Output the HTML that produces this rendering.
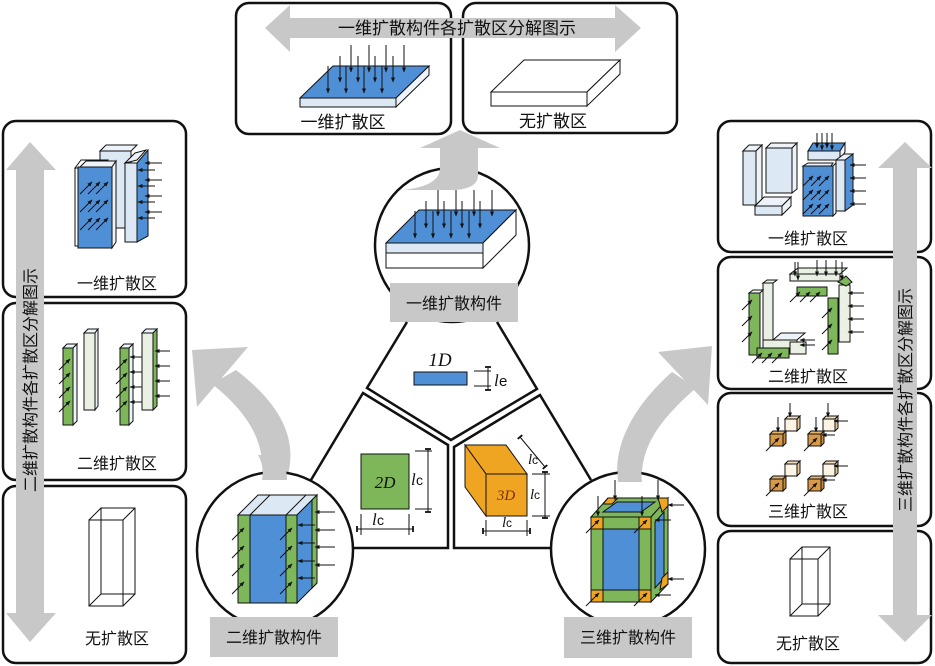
<!DOCTYPE html>
<html><head><meta charset="utf-8"><style>
html,body{margin:0;padding:0;background:#fff;}
svg{display:block;}
text{font-family:"Liberation Sans","Noto Sans CJK SC",sans-serif;}
.it{font-family:"Liberation Serif",serif;font-style:italic;}
</style></head><body>
<svg width="935" height="666" viewBox="0 0 935 666" xmlns="http://www.w3.org/2000/svg">
<defs>
<marker id="a" viewBox="0 0 10 10" refX="9" refY="5" markerWidth="5" markerHeight="5" orient="auto"><path d="M0,1 L10,5 L0,9 Z" fill="#111"/></marker>
<marker id="t" viewBox="0 0 10 10" refX="5" refY="5" markerWidth="6" markerHeight="6" orient="auto"><path d="M5,0 L5,10" stroke="#111" stroke-width="3"/></marker>
</defs>
<g fill="none" stroke="#111" stroke-width="2.5">
<rect x="236" y="3" width="215" height="131" rx="13"/>
<rect x="463" y="3" width="214" height="130" rx="13"/>
<rect x="3" y="121" width="183" height="176" rx="13"/>
<rect x="3" y="303" width="183" height="177" rx="13"/>
<rect x="3" y="486" width="183" height="177" rx="13"/>
<rect x="718" y="121" width="213" height="131" rx="13"/>
<rect x="718" y="257" width="213" height="132" rx="13"/>
<rect x="718" y="393" width="213" height="133" rx="13"/>
<rect x="718" y="531" width="213" height="132" rx="13"/>
</g>
<g fill="#c8c8c8">
<polygon points="265,28 290,5 290,18 615,18 615,5 641,28 615,52 615,38 290,38 290,52"/>
<polygon points="30,142 56,170 44,170 44,613 56,613 30,642 6,613 16,613 16,170 6,170"/>
<polygon points="905,142 932,168 917,168 917,615 932,615 905,642 878,615 893,615 893,168 878,168"/>
<polygon points="420,148 500,148 460,130"/>
<polygon points="192,350 248,347 197,407"/>
<path d="M212,384 L236,370 C275,400 300,435 287,478 L262,478 C266,440 245,410 212,384 Z"/>
<polygon points="712,346 658,352 708,405"/>
<path d="M672,372 L696,388 C662,418 640,445 642,482 L618,482 C612,440 640,400 672,372 Z"/>
</g>
<text x="457" y="34" font-size="17" text-anchor="middle" fill="#111">一维扩散构件各扩散区分解图示</text>
<text transform="translate(36,380) rotate(-90)" font-size="16" text-anchor="middle" fill="#111">二维扩散构件各扩散区分解图示</text>
<text transform="translate(911,400) rotate(-90)" font-size="16" text-anchor="middle" fill="#111">三维扩散构件各扩散区分解图示</text>

<g stroke="#111" stroke-width="1">
<polygon points="300,98 396,98 429,66 333,66" fill="#4f8fd6"/>
<rect x="300" y="98" width="96" height="9" fill="#dde8f5"/>
<polygon points="396,98 429,66 429,75 396,107" fill="#eef3fa"/>
<polygon points="491,92 587,92 620,60 524,60" fill="#fff"/>
<rect x="491" y="92" width="96" height="14" fill="#fff"/>
<polygon points="587,92 620,60 620,74 587,106" fill="#fff"/>
</g>
<g stroke="#111" stroke-width="1" marker-end="url(#a)">
<line x1="351" y1="45" x2="351" y2="72"/><line x1="369" y1="45" x2="369" y2="72"/><line x1="386" y1="45" x2="386" y2="72"/><line x1="404" y1="45" x2="404" y2="72"/>
<line x1="340" y1="56" x2="340" y2="82"/><line x1="358" y1="56" x2="358" y2="82"/><line x1="375" y1="56" x2="375" y2="82"/><line x1="393" y1="56" x2="393" y2="82"/>
<line x1="328" y1="66" x2="328" y2="93"/><line x1="346" y1="66" x2="346" y2="93"/><line x1="364" y1="66" x2="364" y2="93"/><line x1="382" y1="66" x2="382" y2="93"/>
</g>
<text x="343" y="128" font-size="17" text-anchor="middle" fill="#111">一维扩散区</text>
<text x="553" y="127" font-size="17" text-anchor="middle" fill="#111">无扩散区</text>

<circle cx="452" cy="245" r="77" fill="#fff" stroke="#111" stroke-width="2.5"/>
<path d="M440,147 L478,147 L478,175 Q478,190 450,190 L403,190 Q440,186 440,168 Z" fill="#c8c8c8"/>
<g stroke="#111" stroke-width="1">
<polygon points="386,243 483,243 516,210 419,210" fill="#4f8fd6"/>
<rect x="386" y="243" width="97" height="10" fill="#dde8f5"/>
<rect x="386" y="253" width="97" height="15" fill="#fff"/>
<polygon points="483,243 516,210 516,235 483,268" fill="#fff"/>
</g>
<g stroke="#111" stroke-width="1" marker-end="url(#a)">
<line x1="438" y1="190" x2="438" y2="216"/><line x1="456" y1="190" x2="456" y2="216"/><line x1="474" y1="190" x2="474" y2="216"/><line x1="492" y1="190" x2="492" y2="216"/>
<line x1="426" y1="201" x2="426" y2="228"/><line x1="444" y1="201" x2="444" y2="228"/><line x1="462" y1="201" x2="462" y2="228"/><line x1="480" y1="201" x2="480" y2="228"/>
<line x1="415" y1="211" x2="415" y2="238"/><line x1="433" y1="211" x2="433" y2="238"/><line x1="451" y1="211" x2="451" y2="238"/><line x1="469" y1="211" x2="469" y2="238"/>
</g>
<rect x="390" y="283" width="128" height="39" fill="#c8c8c8"/>
<text x="454" y="309" font-size="16" text-anchor="middle" fill="#111">一维扩散构件</text>

<g fill="none" stroke="#111" stroke-width="2.5" stroke-linejoin="miter">
<polyline points="407,322 367,388 451,440 537,389 497,322"/>
<polyline points="311,480 363,393 448,445 448,548 352,548"/>
<polyline points="591,480 540,395 454,447 454,548 551,548"/>
</g>
<rect x="414" y="372" width="53" height="13" fill="#4f8fd6" stroke="#111" stroke-width="1"/>
<text x="440" y="366" font-size="19" class="it" text-anchor="middle" fill="#111">1D</text>
<g stroke="#111" stroke-width="1">
<line x1="474" y1="371" x2="491" y2="371"/><line x1="474" y1="386" x2="491" y2="386"/>
<line x1="488" y1="367" x2="488" y2="390" marker-start="url(#t)" marker-end="url(#t)"/>
</g>
<text x="494" y="386" font-size="17" class="it" fill="#111">l</text><text x="499" y="386" font-size="15" font-family="Liberation Serif" fill="#111">e</text>
<rect x="361" y="454" width="48" height="55" fill="#7db75a" stroke="#111" stroke-width="1"/>
<text x="385" y="488" font-size="17" class="it" text-anchor="middle" fill="#111">2D</text>
<g stroke="#111" stroke-width="1">
<line x1="415" y1="451" x2="432" y2="451"/><line x1="415" y1="509" x2="432" y2="509"/>
<line x1="428" y1="449" x2="428" y2="512" marker-start="url(#t)" marker-end="url(#t)"/>
<line x1="361" y1="514" x2="361" y2="535"/><line x1="409" y1="514" x2="409" y2="535"/>
<line x1="357" y1="529" x2="413" y2="529" marker-start="url(#t)" marker-end="url(#t)"/>
</g>
<text x="411" y="485" font-size="17" class="it" fill="#111">l</text><text x="416" y="485" font-size="14" font-family="Liberation Serif" fill="#111">c</text>
<text x="372" y="525" font-size="17" class="it" fill="#111">l</text><text x="377" y="525" font-size="14" font-family="Liberation Serif" fill="#111">c</text>
<g stroke="#111" stroke-width="1">
<polygon points="465,445 506,445 527,474 486,474" fill="#f0a522"/>
<polygon points="465,445 486,474 486,516 465,487" fill="#f0a522"/>
<rect x="486" y="474" width="41" height="42" fill="#f0a522"/>
<line x1="532" y1="516" x2="550" y2="516"/><line x1="532" y1="474" x2="550" y2="474"/>
<line x1="545" y1="472" x2="545" y2="518" marker-start="url(#t)" marker-end="url(#t)"/>
<line x1="486" y1="520" x2="486" y2="536"/><line x1="527" y1="520" x2="527" y2="536"/>
<line x1="483" y1="531" x2="530" y2="531" marker-start="url(#t)" marker-end="url(#t)"/>
<line x1="520" y1="437" x2="545" y2="467" marker-start="url(#t)" marker-end="url(#t)"/>
</g>
<text x="506" y="500" font-size="15" class="it" text-anchor="middle" fill="#7a2e00">3D</text>
<text x="528" y="464" font-size="15" class="it" fill="#111">l</text><text x="532" y="464" font-size="12" font-family="Liberation Serif" fill="#111">c</text>
<text x="530" y="499" font-size="15" class="it" fill="#111">l</text><text x="534" y="499" font-size="12" font-family="Liberation Serif" fill="#111">c</text>
<text x="502" y="527" font-size="15" class="it" fill="#111">l</text><text x="506" y="527" font-size="12" font-family="Liberation Serif" fill="#111">c</text>

<circle cx="275" cy="550" r="78" fill="#fff" stroke="#111" stroke-width="2.5"/>
<path d="M258,455 L282,455 C285,465 287,472 287,480 L262,480 C264,470 262,462 258,455 Z" fill="#c8c8c8"/>
<g stroke="#111" stroke-width="1">
<polygon points="238,515 297,515 317,495 258,495" fill="#dde8f5"/>
<line x1="250" y1="515" x2="270" y2="495"/><line x1="286" y1="515" x2="306" y2="495"/>
<polygon points="297,515 317,495 317,583 297,603" fill="#4f8fd6"/>
<polygon points="312,500 317,495 317,583 312,588" fill="#7db75a"/>
<rect x="238" y="515" width="12" height="88" fill="#7db75a"/>
<rect x="250" y="515" width="36" height="88" fill="#4f8fd6"/>
<rect x="286" y="515" width="11" height="88" fill="#7db75a"/>
</g>
<g stroke="#111" stroke-width="1" marker-end="url(#a)">
<line x1="232" y1="540" x2="244" y2="528"/><line x1="232" y1="558" x2="244" y2="546"/><line x1="232" y1="576" x2="244" y2="564"/><line x1="232" y1="594" x2="244" y2="582"/>
<line x1="280" y1="540" x2="292" y2="528"/><line x1="280" y1="558" x2="292" y2="546"/><line x1="280" y1="576" x2="292" y2="564"/><line x1="280" y1="594" x2="292" y2="582"/>
<line x1="335" y1="512" x2="315" y2="512"/><line x1="335" y1="530" x2="315" y2="530"/><line x1="335" y1="547" x2="315" y2="547"/><line x1="335" y1="565" x2="315" y2="565"/>
<line x1="315" y1="525" x2="298" y2="525"/><line x1="315" y1="543" x2="298" y2="543"/><line x1="315" y1="561" x2="298" y2="561"/><line x1="315" y1="578" x2="298" y2="578"/>
</g>
<rect x="210" y="617" width="128" height="40" fill="#c8c8c8"/>
<text x="274" y="643" font-size="16" text-anchor="middle" fill="#111">二维扩散构件</text>

<circle cx="628" cy="549" r="77" fill="#fff" stroke="#111" stroke-width="2.5"/>
<path d="M620,455 L644,458 C641,466 641,474 642,482 L618,482 C617,472 618,463 620,455 Z" fill="#c8c8c8"/>
<g stroke="#111" stroke-width="1">
<polygon points="591,517 651,517 668,498 608,498" fill="#7db75a"/>
<polygon points="603,512 641,512 655,502 617,502" fill="#4f8fd6"/>
<polygon points="651,517 668,498 668,584 651,602" fill="#7db75a"/>
<polygon points="655,522 664,512 664,578 655,588" fill="#4f8fd6"/>
<rect x="591" y="517" width="60" height="85" fill="#7db75a"/>
<rect x="603" y="529" width="36" height="61" fill="#4f8fd6"/>
<rect x="591" y="517" width="12" height="12" fill="#f0a522"/><rect x="639" y="517" width="12" height="12" fill="#f0a522"/>
<rect x="591" y="590" width="12" height="12" fill="#f0a522"/><rect x="639" y="590" width="12" height="12" fill="#f0a522"/>
<polygon points="608,498 618,498 612,504 603,504" fill="#f0a522"/>
<polygon points="658,498 668,498 668,506 662,512" fill="#f0a522"/>
<polygon points="662,578 668,572 668,584 660,590" fill="#f0a522"/>
</g>
<g stroke="#111" stroke-width="1" marker-end="url(#a)">
<line x1="586" y1="533" x2="599" y2="520"/><line x1="634" y1="533" x2="647" y2="520"/>
<line x1="586" y1="606" x2="599" y2="593"/><line x1="634" y1="606" x2="647" y2="593"/>
<line x1="598" y1="496" x2="598" y2="516"/><line x1="615" y1="480" x2="615" y2="500"/><line x1="658" y1="480" x2="658" y2="500"/><line x1="642" y1="496" x2="642" y2="516"/>
<line x1="684" y1="505" x2="668" y2="505"/><line x1="671" y1="520" x2="655" y2="520"/>
<line x1="684" y1="579" x2="668" y2="579"/><line x1="671" y1="595" x2="655" y2="595"/>
</g>
<rect x="564" y="617" width="128" height="41" fill="#c8c8c8"/>
<text x="628" y="643" font-size="16" text-anchor="middle" fill="#111">三维扩散构件</text>

<g stroke="#111" stroke-width="1">
<polygon points="100,151 106,145 137,145 131,151" fill="#eef3fa"/>
<rect x="100" y="151" width="31" height="77" fill="#dde8f5"/>
<polygon points="75,168 81,160 108,160 102,168" fill="#fff"/>
<rect x="75" y="168" width="5" height="78" fill="#fff"/>
<polygon points="80,167 86,161 116,161 112,167" fill="#eef3fa"/>
<polygon points="112,167 116,161 116,242 112,248" fill="#eef3fa"/>
<rect x="78" y="167" width="34" height="81" fill="#4f8fd6"/>
<polygon points="125,163 135,153 146,150 137,160" fill="#eef3fa"/>
<rect x="125" y="163" width="12" height="79" fill="#dde8f5"/>
<polygon points="137,163 148,150 148,236 137,242" fill="#4f8fd6"/>
</g>
<g stroke="#111" stroke-width="1" marker-end="url(#a)">
<line x1="80" y1="194" x2="92" y2="182"/><line x1="88" y1="194" x2="100" y2="182"/><line x1="96" y1="194" x2="108" y2="182"/>
<line x1="80" y1="212" x2="92" y2="200"/><line x1="88" y1="212" x2="100" y2="200"/><line x1="96" y1="212" x2="108" y2="200"/>
<line x1="80" y1="230" x2="92" y2="218"/><line x1="88" y1="230" x2="100" y2="218"/><line x1="96" y1="230" x2="108" y2="218"/>
<line x1="162" y1="163" x2="145" y2="163"/><line x1="162" y1="180" x2="145" y2="180"/><line x1="162" y1="196" x2="145" y2="196"/><line x1="162" y1="212" x2="145" y2="212"/>
<line x1="155" y1="170" x2="138" y2="170"/><line x1="155" y1="186" x2="138" y2="186"/><line x1="155" y1="202" x2="138" y2="202"/><line x1="155" y1="218" x2="138" y2="218"/>
</g>
<text x="117" y="289" font-size="16" text-anchor="middle" fill="#111">一维扩散区</text>
<g stroke="#111" stroke-width="1">
<polygon points="63,348 67,344 77,344 73,348" fill="#eef3fa"/><polygon points="73,348 77,344 77,421 73,425" fill="#eef3fa"/><rect x="63" y="348" width="10" height="77" fill="#7db75a"/>
<polygon points="84,333 88,329 98,329 95,333" fill="#eef3fa"/><polygon points="95,333 98,329 98,406 95,410" fill="#eef3fa"/><rect x="84" y="333" width="11" height="77" fill="#eaf1e4"/>
<polygon points="120,348 124,344 133,344 129,348" fill="#eef3fa"/><polygon points="129,348 133,344 133,421 129,425" fill="#eef3fa"/><rect x="120" y="348" width="9" height="77" fill="#7db75a"/>
<polygon points="142,333 146,329 157,329 153,333" fill="#eef3fa"/><polygon points="153,333 157,329 157,406 153,410" fill="#7db75a"/><rect x="142" y="333" width="11" height="77" fill="#eaf1e4"/>
</g>
<g stroke="#111" stroke-width="1" marker-end="url(#a)">
<line x1="59" y1="370" x2="70" y2="359"/><line x1="59" y1="384" x2="70" y2="373"/><line x1="59" y1="398" x2="70" y2="387"/><line x1="59" y1="412" x2="70" y2="401"/>
<line x1="116" y1="370" x2="127" y2="359"/><line x1="116" y1="384" x2="127" y2="373"/><line x1="116" y1="398" x2="127" y2="387"/><line x1="116" y1="412" x2="127" y2="401"/>
<line x1="170" y1="351" x2="155" y2="351"/><line x1="170" y1="366" x2="155" y2="366"/><line x1="170" y1="381" x2="155" y2="381"/><line x1="170" y1="396" x2="155" y2="396"/>
<line x1="142" y1="357" x2="130" y2="357"/><line x1="142" y1="372" x2="130" y2="372"/><line x1="142" y1="387" x2="130" y2="387"/><line x1="142" y1="402" x2="130" y2="402"/>
</g>
<text x="117" y="469" font-size="16" text-anchor="middle" fill="#111">二维扩散区</text>
<g stroke="#111" stroke-width="1" fill="none">
<rect x="89" y="520" width="34" height="86"/><rect x="101" y="508" width="34" height="86"/>
<line x1="89" y1="520" x2="101" y2="508"/><line x1="123" y1="520" x2="135" y2="508"/><line x1="89" y1="606" x2="101" y2="594"/><line x1="123" y1="606" x2="135" y2="594"/>
</g>
<text x="117" y="644" font-size="16" text-anchor="middle" fill="#111">无扩散区</text>

<g stroke="#111" stroke-width="1">
<polygon points="743,151 749,145 762,145 756,151" fill="#eef3fa"/><polygon points="756,151 762,145 762,199 756,205" fill="#eef3fa"/><rect x="743" y="151" width="13" height="54" fill="#dde8f5"/>
<polygon points="766,148 771,143 797,143 792,148" fill="#eef3fa"/><polygon points="792,148 797,143 797,189 792,193" fill="#eef3fa"/><rect x="766" y="148" width="26" height="45" fill="#dde8f5"/>
<polygon points="755,206 764,197 791,197 782,206" fill="#eef3fa"/><polygon points="782,206 791,197 791,206 782,215" fill="#eef3fa"/><rect x="755" y="206" width="27" height="9" fill="#dde8f5"/>
<polygon points="808,151 813,143 845,143 840,151" fill="#4f8fd6"/><polygon points="840,151 845,143 845,152 840,160" fill="#eef3fa"/><rect x="808" y="151" width="32" height="9" fill="#dde8f5"/>
<polygon points="803,166 808,163 833,163 831,166" fill="#eef3fa"/><rect x="803" y="166" width="30" height="50" fill="#4f8fd6"/><polygon points="833,166 836,163 836,213 833,216" fill="#eef3fa"/>
<polygon points="836,160 844,154 853,154 846,160" fill="#eef3fa"/><rect x="836" y="160" width="9" height="51" fill="#dde8f5"/><polygon points="845,160 853,154 853,205 845,211" fill="#4f8fd6"/>
</g>
<g stroke="#111" stroke-width="1" marker-end="url(#a)">
<line x1="817" y1="133" x2="817" y2="148"/><line x1="822" y1="133" x2="822" y2="150"/><line x1="827" y1="133" x2="827" y2="148"/><line x1="832" y1="133" x2="832" y2="150"/>
<line x1="803" y1="186" x2="813" y2="176"/><line x1="811" y1="186" x2="821" y2="176"/><line x1="819" y1="186" x2="829" y2="176"/>
<line x1="803" y1="200" x2="813" y2="190"/><line x1="811" y1="200" x2="821" y2="190"/><line x1="819" y1="200" x2="829" y2="190"/>
<line x1="803" y1="214" x2="813" y2="204"/><line x1="811" y1="214" x2="821" y2="204"/><line x1="819" y1="214" x2="829" y2="204"/>
<line x1="866" y1="165" x2="850" y2="165"/><line x1="866" y1="178" x2="850" y2="178"/><line x1="866" y1="191" x2="850" y2="191"/><line x1="866" y1="204" x2="850" y2="204"/>
</g>
<text x="808" y="244" font-size="16" text-anchor="middle" fill="#111">一维扩散区</text>

<g stroke="#111" stroke-width="1">
<rect x="763" y="283" width="10" height="65" fill="#eaf1e4"/><polygon points="763,283 767,280 777,280 773,283" fill="#eef3fa"/>
<rect x="749" y="293" width="11" height="62" fill="#7db75a"/><polygon points="749,293 753,290 763,290 760,293" fill="#eef3fa"/>
<polygon points="773,340 781,333 805,333 797,340" fill="#eef3fa"/><rect x="763" y="340" width="34" height="8" fill="#eaf1e4"/>
<rect x="757" y="348" width="32" height="10" fill="#7db75a"/>
<rect x="790" y="342" width="16" height="12" fill="#eaf1e4"/>
<polygon points="790,274 798,268 847,268 840,274" fill="#eaf1e4"/>
<rect x="790" y="274" width="50" height="7" fill="#eaf1e4"/>
<rect x="797" y="287" width="30" height="9" fill="#7db75a"/>
<rect x="828" y="298" width="10" height="56" fill="#7db75a"/>
<rect x="839" y="285" width="11" height="57" fill="#eaf1e4"/>
<polygon points="838,282 846,276 852,282 846,286" fill="#7db75a"/>
</g>
<g stroke="#111" stroke-width="1" marker-end="url(#a)">
<line x1="795" y1="262" x2="795" y2="276"/><line x1="798" y1="262" x2="798" y2="280"/><line x1="817" y1="260" x2="817" y2="276"/><line x1="826" y1="260" x2="826" y2="276"/><line x1="836" y1="260" x2="836" y2="276"/><line x1="842" y1="262" x2="842" y2="280"/>
<line x1="790" y1="302" x2="800" y2="292"/><line x1="800" y1="302" x2="810" y2="292"/><line x1="810" y1="302" x2="820" y2="292"/>
<line x1="742" y1="310" x2="752" y2="300"/><line x1="742" y1="326" x2="752" y2="316"/><line x1="742" y1="342" x2="752" y2="332"/>
<line x1="752" y1="363" x2="762" y2="353"/><line x1="762" y1="363" x2="772" y2="353"/><line x1="772" y1="363" x2="782" y2="353"/>
<line x1="822" y1="318" x2="832" y2="308"/><line x1="822" y1="334" x2="832" y2="324"/><line x1="822" y1="350" x2="832" y2="340"/>
<line x1="864" y1="293" x2="848" y2="293"/><line x1="864" y1="306" x2="848" y2="306"/><line x1="864" y1="319" x2="848" y2="319"/><line x1="864" y1="332" x2="848" y2="332"/>
<line x1="815" y1="340" x2="800" y2="340"/><line x1="815" y1="345" x2="800" y2="345"/>
</g>
<text x="808" y="382" font-size="16" text-anchor="middle" fill="#111">二维扩散区</text>

<g stroke="#111" stroke-width="1">
<g id="c1">
<polygon points="785,419 788,416 800,416 797,419" fill="#f3e0c0"/><polygon points="797,419 800,416 800,428 797,431" fill="#e8c898"/><rect x="785" y="419" width="12" height="12" fill="#fdf4e3"/>
<polygon points="770,434 773,431 786,431 783,434" fill="#e8b870"/><polygon points="783,434 786,431 786,443 783,446" fill="#c8883a"/><rect x="770" y="434" width="13" height="12" fill="#d99a48"/>
</g>
<use href="#c1" x="38"/><use href="#c1" y="45"/><use href="#c1" x="38" y="45"/>
</g>
<g stroke="#111" stroke-width="1" marker-end="url(#a)">
<line x1="790" y1="403" x2="790" y2="417"/><line x1="778" y1="417" x2="778" y2="432"/><line x1="766" y1="451" x2="779" y2="438"/>
<line x1="828" y1="403" x2="828" y2="417"/><line x1="816" y1="417" x2="816" y2="432"/><line x1="804" y1="451" x2="817" y2="438"/>
<line x1="848" y1="421" x2="834" y2="421"/><line x1="835" y1="435" x2="822" y2="435"/>
<line x1="766" y1="496" x2="779" y2="483"/><line x1="804" y1="496" x2="817" y2="483"/>
<line x1="848" y1="466" x2="834" y2="466"/><line x1="835" y1="480" x2="822" y2="480"/>
</g>
<text x="808" y="517" font-size="16" text-anchor="middle" fill="#111">三维扩散区</text>
<g stroke="#111" stroke-width="1" fill="none">
<rect x="790" y="559" width="28" height="57"/><rect x="802" y="547" width="28" height="57"/>
<line x1="790" y1="559" x2="802" y2="547"/><line x1="818" y1="559" x2="830" y2="547"/><line x1="790" y1="616" x2="802" y2="604"/><line x1="818" y1="616" x2="830" y2="604"/>
</g>
<text x="808" y="649" font-size="16" text-anchor="middle" fill="#111">无扩散区</text>
</svg>
</body></html>
